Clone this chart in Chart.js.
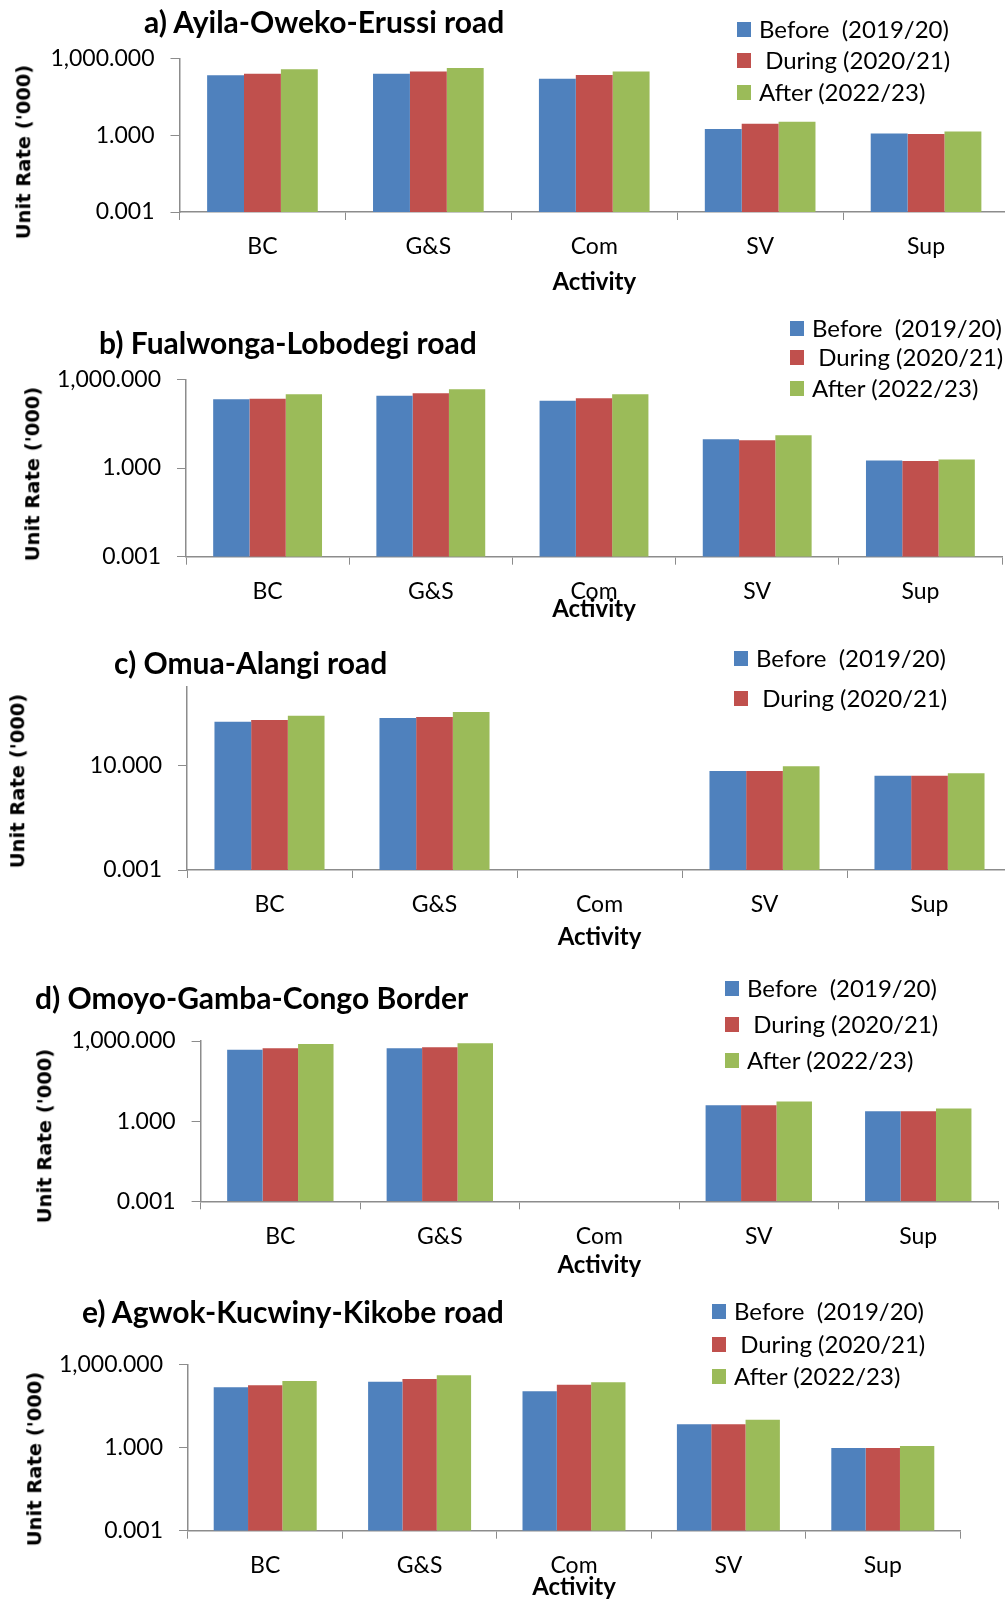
<!DOCTYPE html>
<html>
<head>
<meta charset="utf-8">
<script src="https://cdn.jsdelivr.net/npm/chart.js@4.4.1/dist/chart.umd.min.js"></script>
<style>
  html, body { margin:0; padding:0; background:#fff; width:1005px; height:1601px; overflow:hidden; position:relative; }
  canvas { position:absolute; left:0; }
  .ttl { position:absolute; font: bold 30px Lato, sans-serif; white-space:pre; color:#000; line-height:1; transform:translateY(-50%); }
  .ytl { position:absolute; font: bold 19.5px "DejaVu Sans", sans-serif; white-space:pre; color:#000; line-height:1; transform:translate(-50%,-50%) rotate(-90deg); }
  .leg { position:absolute; font: 24px Lato, sans-serif; white-space:pre; color:#000; line-height:1; transform:translateY(-50%); }
  .leg i { position:absolute; left:-22px; top:50%; margin-top:-7px; width:14px; height:15px; }
</style>
</head>
<body>
<script>
// activities on the x axis
const activities = ['BC', 'G&S', 'Com', 'SV', 'Sup'];
const seriesNames = ['Before  (2019/20)', ' During (2020/21)', 'After (2022/23)'];
const seriesColors = ['#4F81BD', '#C0504D', '#9BBB59'];

// unit rates ('000)
const ayilaBefore  = [217, 251, 160, 1.73, 1.15];
const ayilaDuring  = [251, 302, 223, 2.8, 1.1];
const ayilaAfter   = [372, 418, 302, 3.3, 1.38];
const fualBefore   = [210, 279, 189, 9.3, 1.8];
const fualDuring   = [221, 336, 228, 8.6, 1.73];
const fualAfter    = [310, 459, 310, 12.8, 1.95];
const omuaBefore   = [460, 638, null, 6.0, 4.0];
const omuaDuring   = [537, 695, null, 6.0, 4.0];
const omuaAfter    = [780, 1075, null, 9.2, 4.9];
const omoyoBefore  = [473, 531, null, 3.9, 2.35];
const omoyoDuring  = [531, 580, null, 3.9, 2.35];
const omoyoAfter   = [773, 818, null, 5.4, 3.0];
const agwokBefore  = [153, 243, 110, 7.0, 0.98];
const agwokDuring  = [180, 305, 190, 7.0, 0.97];
const agwokAfter   = [258, 414, 232, 10.2, 1.15];

// y tick labels
const ticksWide = [0.001, 1, 1000];
const ticksOmua = [0.001, 10];

const axisGray = '#8c8c8c';
const cvW = 1020;

const panels = [
  {title:'a) Ayila-Oweko-Erussi road', data:[ayilaBefore, ayilaDuring, ayilaAfter], yMax:1000, yTicks:ticksWide, nLeg:3,
   top:0, h:300, plotTop:58.3, plotBottom:212, axisX:179.5, plotRight:1009, actY:282,
   tx:144, ty:21, ytx:24, yty:152, lx:759, ly:[29, 60, 91.5]},
  {title:'b) Fualwonga-Lobodegi road', data:[fualBefore, fualDuring, fualAfter], yMax:1000, yTicks:ticksWide, nLeg:3,
   top:300, h:330, plotTop:379.3, plotBottom:556.7, axisX:186, plotRight:1002, actY:609,
   tx:99, ty:342, ytx:33, yty:474, lx:812, ly:[327.5, 356.8, 388]},
  {title:'c) Omua-Alangi road', data:[omuaBefore, omuaDuring, omuaAfter], yMax:10000, yTicks:ticksOmua, nLeg:2,
   top:630, h:325, plotTop:686.7, plotBottom:870, axisX:187, plotRight:1012, actY:937,
   tx:114, ty:662, ytx:18, yty:781, lx:756, ly:[657.5, 698]},
  {title:'d) Omoyo-Gamba-Congo Border', data:[omoyoBefore, omoyoDuring, omoyoAfter], yMax:1000, yTicks:ticksWide, nLeg:3,
   top:955, h:330, plotTop:1041, plotBottom:1201.3, axisX:200.6, plotRight:998, actY:1265,
   tx:35, ty:997, ytx:45, yty:1136, lx:747, ly:[987.5, 1023.5, 1059.5]},
  {title:'e) Agwok-Kucwiny-Kikobe road', data:[agwokBefore, agwokDuring, agwokAfter], yMax:1000, yTicks:ticksWide, nLeg:3,
   top:1285, h:320, plotTop:1364.7, plotBottom:1530.7, axisX:188, plotRight:960, actY:1587,
   tx:82, ty:1311, ytx:35, yty:1459, lx:734, ly:[1310.5, 1343.7, 1376]}
];

function fmt(v) {
  return Number(v).toLocaleString('en-US', {minimumFractionDigits:3, maximumFractionDigits:3});
}

function addDiv(cls, text, x, y) {
  const d = document.createElement('div');
  d.className = cls;
  d.textContent = text;
  d.style.left = x + 'px';
  d.style.top = y + 'px';
  document.body.appendChild(d);
  return d;
}

panels.forEach(p => {
  const cv = document.createElement('canvas');
  cv.width = cvW; cv.height = p.h;
  cv.style.top = p.top + 'px';
  cv.style.width = cvW + 'px'; cv.style.height = p.h + 'px';
  document.body.appendChild(cv);

  const labelFont = {family:'Lato', size:23};
  new Chart(cv, {
    type: 'bar',
    data: {
      labels: activities,
      datasets: p.data.map((d, i) => ({
        label: seriesNames[i], data: d, backgroundColor: seriesColors[i],
        borderWidth: 0, categoryPercentage: 0.667, barPercentage: 1
      }))
    },
    options: {
      responsive: false, animation: false, devicePixelRatio: 1,
      layout: {padding: {top: p.plotTop - p.top, right: cvW - p.plotRight, left: 0, bottom: 0}},
      plugins: {legend: {display: false}, title: {display: false}, tooltip: {enabled: false}},
      scales: {
        x: {
          grid: {display: true, drawOnChartArea: false, tickLength: 8, color: axisGray, offset: true},
          border: {color: axisGray, width: 1.5},
          ticks: {font: labelFont, color: '#000', padding: 13, maxRotation: 0, autoSkip: false},
          title: {display: true, text: 'Activity', color: '#000',
                  font: {family: 'Lato', size: 24, weight: 'bold'},
                  padding: {top: 0, bottom: p.top + p.h - 14.4 - p.actY}},
          afterFit: s => { s.height = p.top + p.h - p.plotBottom; }
        },
        y: {
          type: 'logarithmic', min: 0.001, max: p.yMax,
          grid: {drawOnChartArea: false, tickLength: 9, color: axisGray},
          border: {color: axisGray, width: 1.5},
          ticks: {font: labelFont, color: '#000', padding: 16, autoSkip: false, callback: v => fmt(v)},
          afterBuildTicks: s => { s.ticks = p.yTicks.map(v => ({value: v})); },
          afterFit: s => { s.width = p.axisX; }
        }
      }
    }
  });

  addDiv('ttl', p.title, p.tx, p.ty);
  addDiv('ytl', "Unit Rate ('000)", p.ytx, p.yty);
  for (let i = 0; i < p.nLeg; i++) {
    const d = addDiv('leg', seriesNames[i], p.lx, p.ly[i]);
    const sw = document.createElement('i');
    sw.style.background = seriesColors[i];
    d.appendChild(sw);
  }
});
</script>
</body>
</html>
